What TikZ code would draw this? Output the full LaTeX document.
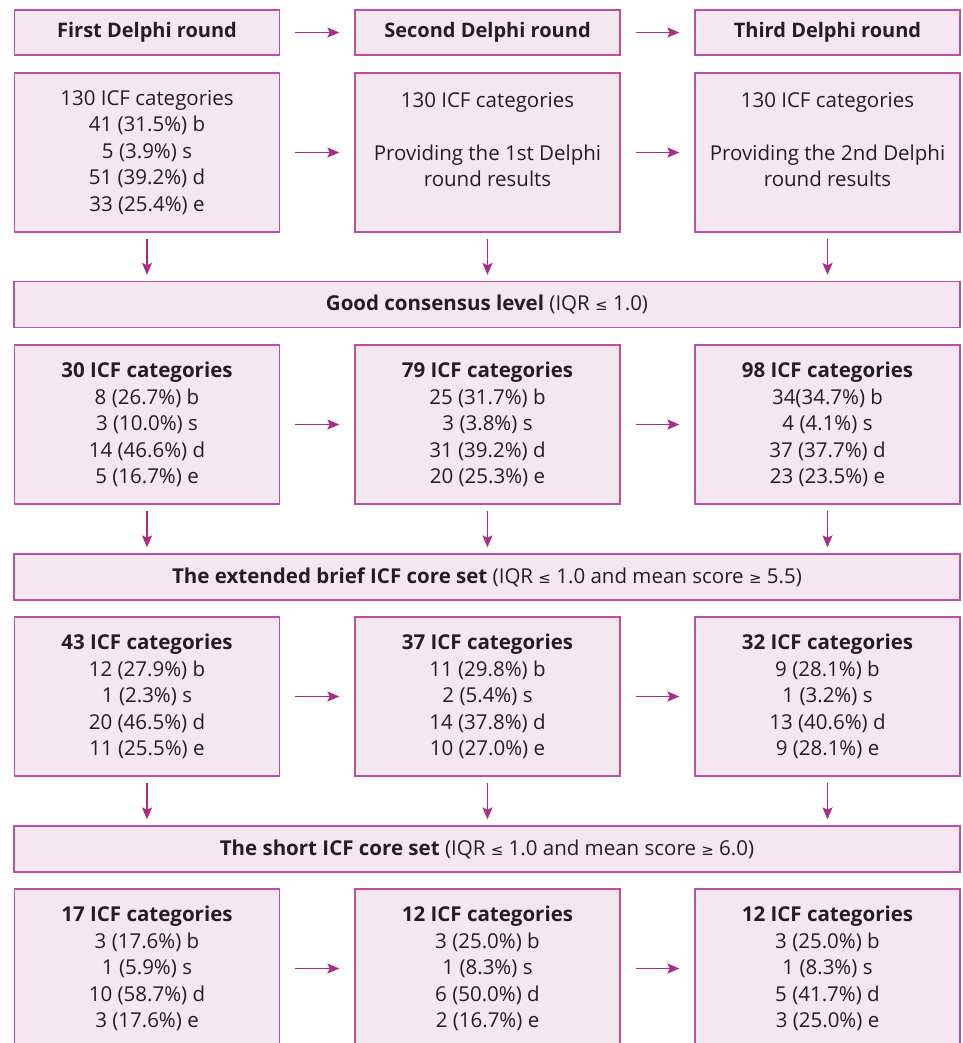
\documentclass[tikz,border=0pt]{standalone}
\usepackage{fontspec}
\setmainfont{Open Sans}
\newfontfamily\symf{DejaVu Sans}
\newcommand{\lessq}{{\symf\fontsize{15}{26.5}\selectfont ≤}}
\newcommand{\moreq}{{\symf\fontsize{15}{26.5}\selectfont ≥}}
\usetikzlibrary{arrows.meta}
\definecolor{bord}{HTML}{BC4FA1}
\definecolor{fillc}{HTML}{F5E7F0}
\definecolor{arrc}{HTML}{AC2B88}
\definecolor{txt}{HTML}{231F20}
\tikzset{
  box/.style={draw=bord, fill=fillc, line width=1.3pt, minimum width=265pt, inner sep=0pt,
    text=txt, align=center, font=\fontsize{20.5}{26.5}\selectfont},
  hdr/.style={box, minimum height=45pt, font=\fontsize{20}{26.5}\selectfont\bfseries},
  tall/.style={box, minimum height=159pt},
  banner/.style={box, minimum width=946pt, minimum height=46pt},
  arr/.style={draw=arrc, line width=1.3pt, -{Stealth[length=12pt,width=10pt,inset=2.5pt]}},
}
\begin{document}
\begin{tikzpicture}[x=1pt,y=-1pt]
\useasboundingbox (0,0) rectangle (962,1043);
\clip (0,0) rectangle (962,1043);
% headers
\node[hdr] (h1) at (147,32.5) {First Delphi round};
\node[hdr] (h2) at (487.5,32.5) {Second Delphi round};
\node[hdr] (h3) at (827.5,32.5) {Third Delphi round};
% row 2
\node[tall] (a1) at (147,152.5) {130 ICF categories\\41 (31.5\%) b\\5 (3.9\%) s\\51 (39.2\%) d\\33 (25.4\%) e};
\node[tall] (a2) at (487.5,152.5) {130 ICF categories\\ ~\\Providing the 1st Delphi\\round results\\ ~};
\node[tall] (a3) at (827.5,152.5) {130 ICF categories\\ ~\\Providing the 2nd Delphi\\round results\\ ~};
% banner 1
\node[banner] (b1) at (487,304.5) {\textbf{Good consensus level} (IQR \lessq\ 1.0)};
% row 3
\node[tall] (c1) at (147,424.5) {\textbf{30 ICF categories}\\8 (26.7\%) b\\3 (10.0\%) s\\14 (46.6\%) d\\5 (16.7\%) e};
\node[tall] (c2) at (487.5,424.5) {\textbf{79 ICF categories}\\25 (31.7\%) b\\3 (3.8\%) s\\31 (39.2\%) d\\20 (25.3\%) e};
\node[tall] (c3) at (827.5,424.5) {\textbf{98 ICF categories}\\34(34.7\%) b\\4 (4.1\%) s\\37 (37.7\%) d\\23 (23.5\%) e};
% banner 2
\node[banner] (b2) at (487,577) {\textbf{The extended brief ICF core set} (IQR \lessq\ 1.0 and mean score \moreq\ 5.5)};
% row 4
\node[tall] (d1) at (147,696.5) {\textbf{43 ICF categories}\\12 (27.9\%) b\\1 (2.3\%) s\\20 (46.5\%) d\\11 (25.5\%) e};
\node[tall] (d2) at (487.5,696.5) {\textbf{37 ICF categories}\\11 (29.8\%) b\\2 (5.4\%) s\\14 (37.8\%) d\\10 (27.0\%) e};
\node[tall] (d3) at (827.5,696.5) {\textbf{32 ICF categories}\\9 (28.1\%) b\\1 (3.2\%) s\\13 (40.6\%) d\\9 (28.1\%) e};
% banner 3
\node[banner] (b3) at (487,849) {\textbf{The short ICF core set} (IQR \lessq\ 1.0 and mean score \moreq\ 6.0)};
% row 5
\node[tall] (e1) at (147,968.5) {\textbf{17 ICF categories}\\3 (17.6\%) b\\1 (5.9\%) s\\10 (58.7\%) d\\3 (17.6\%) e};
\node[tall] (e2) at (487.5,968.5) {\textbf{12 ICF categories}\\3 (25.0\%) b\\1 (8.3\%) s\\6 (50.0\%) d\\2 (16.7\%) e};
\node[tall] (e3) at (827.5,968.5) {\textbf{12 ICF categories}\\3 (25.0\%) b\\1 (8.3\%) s\\5 (41.7\%) d\\3 (25.0\%) e};
% horizontal arrows
\foreach \l/\r in {h1/h2,h2/h3,a1/a2,a2/a3,c1/c2,c2/c3,d1/d2,d2/d3,e1/e2,e2/e3}
  \draw[arr, shorten <=15pt, shorten >=15pt] (\l) -- (\r);
% vertical arrows
\foreach \s/\t in {a1/b1,a2/b1,a3/b1,c1/b2,c2/b2,c3/b2,d1/b3,d2/b3,d3/b3}
  \draw[arr, shorten <=6pt, shorten >=6pt] (\s.south) -- (\s.south |- \t.north);
\end{tikzpicture}
\end{document}
